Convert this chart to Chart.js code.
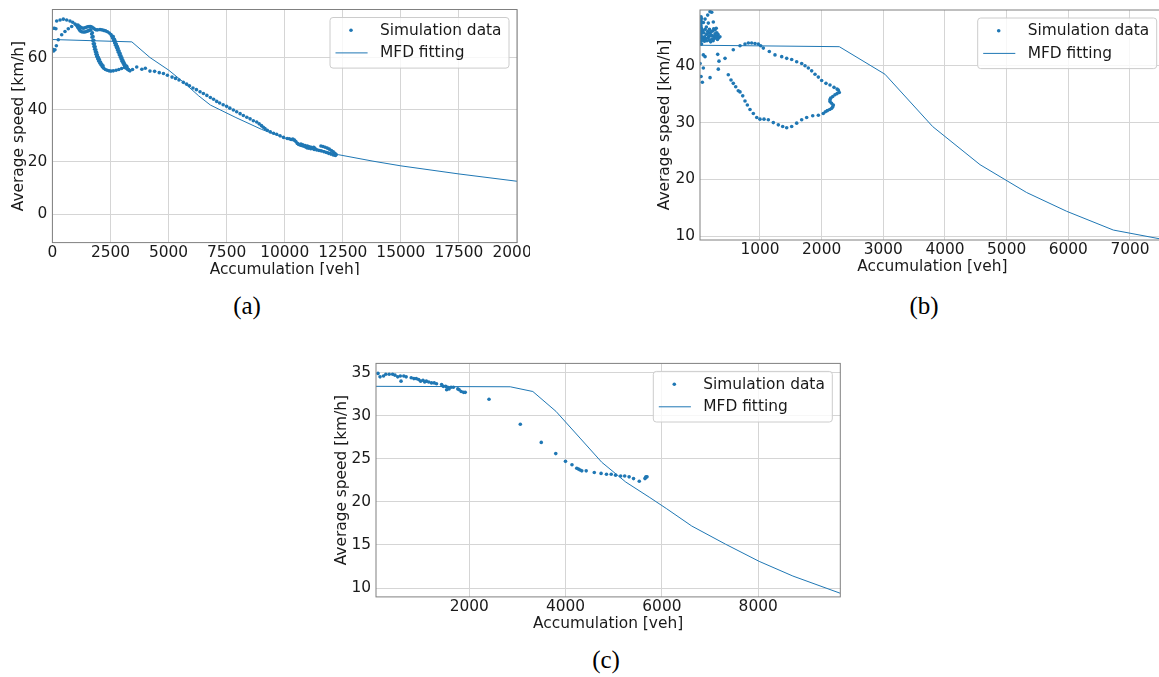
<!DOCTYPE html>
<html>
<head>
<meta charset="utf-8">
<script src="https://cdn.jsdelivr.net/npm/chart.js@4.4.0/dist/chart.umd.min.js"></script>
<style>
  html, body { margin: 0; padding: 0; background: #fff; }
  body { width: 1159px; height: 677px; position: relative; overflow: hidden; }
  .panel { position: absolute; overflow: hidden; }
  .panel canvas { position: absolute; left: 0; top: 0; }
  .tag { position: absolute; font-family: "Liberation Serif", serif; font-size: 25px; color: #000; transform: translate(-50%, -50%); }
</style>
</head>
<body>
<div class="panel" id="wrapA" style="left:0px;top:0px;width:530px;height:275px"><canvas id="chartA" width="530" height="300"></canvas></div>
<div class="panel" id="wrapB" style="left:640px;top:0px;width:519px;height:275px"><canvas id="chartB" width="540" height="300"></canvas></div>
<div class="panel" id="wrapC" style="left:316px;top:355px;width:540px;height:276px"><canvas id="chartC" width="540" height="300"></canvas></div>
<div class="tag" style="left:247px;top:306px">(a)</div>
<div class="tag" style="left:924px;top:306px">(b)</div>
<div class="tag" style="left:606px;top:660px">(c)</div>
<script>
// ---- data: panel (a) ----
const simA = [
  [20,71.2],[90,71.2],[150,71.0],
  [10,63.2],[50,62.5],[110,63.0],[170,64.5],
  [254,66.8],[400,68.7],[542,70.0],[684,71.0],[830,71.9],[972,72.8],
  [185,74.0],[330,74.4],[470,74.7],[615,74.4],[757,74.0],[873,73.5],[1045,72.3],
  [1080,71.8],[1120,71.2],[1160,70.6],[1200,70.2],[1260,69.9],[1320,69.8],[1380,69.8],[1440,69.9],[1500,70.1],[1560,70.3],[1620,70.6],
  [1100,72.4],[1160,72.0],[1220,71.6],[1280,71.3],[1340,71.2],[1400,71.4],[1460,71.6],[1520,71.8],[1580,71.9],[1640,71.9],[1700,71.7],[1760,71.3],[1820,70.9],[1880,70.6],
  [1950,70.6],[2050,70.7],[2130,70.6],[2210,70.4],[2290,70.2],[2370,69.9],[2450,69.4],[2520,68.8],
  [1660,70.5],[1690,69.0],[1710,67.8],[1740,66.5],[1760,65.3],[1790,64.2],[1820,63.2],[1850,62.2],[1880,61.3],[1910,60.4],[1950,59.5],[1990,58.7],[2040,57.9],[2090,57.2],[2150,56.5],[2210,55.9],[2280,55.4],[2360,55.1],[2440,54.9],
  [1720,69.5],[1750,68.0],[1780,66.6],[1810,65.3],[1840,64.1],[1870,63.0],[1900,62.0],[1935,61.0],[1975,60.1],[2020,59.2],[2070,58.3],[2120,57.5],[2180,56.8],
  [2520,54.8],[2620,54.9],[2740,55.1],[2860,55.4],[2980,55.8],[3100,56.2],[3200,56.6],
  [2560,68.2],[2600,67.4],[2640,66.5],[2680,65.6],[2720,64.7],[2760,63.8],[2800,62.9],[2840,62.0],[2880,61.1],[2920,60.2],[2960,59.4],[3000,58.6],[3040,57.9],[3080,57.2],[3130,56.5],[3180,55.9],[3240,55.4],[3300,55.1],
  [2620,68.0],[2670,67.0],[2710,66.1],[2750,65.2],[2790,64.3],[2830,63.4],[2870,62.5],[2910,61.6],[2950,60.7],[2990,59.9],[3030,59.0],[3070,58.2],[3110,57.5],[3160,56.8],[3220,56.0],[3280,55.4],[3340,54.9],
  [3450,55.4],[3630,56.4],[3850,55.5],[4000,55.9],[4200,54.8],[4400,54.7],[4600,54.2],[4780,53.9],[4950,53.2],[5150,52.5],[5300,52.0],[5450,51.4],[5635,50.5],[5780,49.8],[5900,49.2],[6050,48.3],[6200,47.7],[6355,46.9],[6500,46.2],[6650,45.5],[6800,44.7],[6940,44.0],[7073,43.2],[7200,42.6],[7350,41.9],[7500,41.3],[7640,40.6],[7790,39.9],[7933,39.2],[8080,38.5],[8220,37.8],[8370,37.1],[8510,36.5],[8650,35.8],[8795,35.3],[8900,34.6],[9000,33.9],[9080,33.3],[9150,32.8],[9250,32.1],[9380,31.5],[9520,31.0],[9655,30.6],[9800,30.0],[9950,29.4],[10108,29.0],
  [10200,28.9],[10280,28.6],[10350,28.8],[10420,28.4],[10480,27.8],[10543,27.1],[10600,26.7],[10680,26.4],[10760,26.2],[10832,26.0],[10900,25.7],[10960,25.4],[11030,25.3],[11124,25.1],[11200,25.2],[10700,26.9],[10780,26.6],[10880,26.3],[10980,26.1],[11060,25.8],[11140,25.6],[11250,25.6],[11300,25.2],
  [11560,26.1],[11650,25.9],[11740,25.6],[11830,25.3],[11920,24.9],[12010,24.4],[12090,23.9],[12160,23.3],[12215,22.8],[12180,22.5],[12090,22.7],[11990,23.0],[11890,23.3],[11790,23.6],[11690,23.9],[11580,24.2],[11480,24.4],[11380,24.6],[11270,24.8]
];
const fitA = [
  [0,66.9],[3420,66.0],[4200,60.0],[5000,55.2],[5650,50.5],[6300,45.3],[6800,41.8],[7900,37.0],[9000,32.5],[10000,29.2],[11000,26.0],[12300,22.8],[13800,20.3],[15000,18.5],[17500,15.4],[20000,12.6]
];
const xTicksA = [0, 2500, 5000, 7500, 10000, 12500, 15000, 17500, 20000];
const yTicksA = [0, 20, 40, 60];

// ---- data: panel (b) ----
const simB = [
  [190,49.5],[217,49.4],[152,48.9],[109,48.2],[82,47.6],[162,47.5],[243,47.7],
  [44,48.6],[50,48.3],[44,47.9],[52,47.5],[44,47.0],[50,46.6],[44,46.1],[52,45.7],[44,45.3],[50,44.8],[44,44.3],[52,43.8],
  [70,46.2],[90,45.8],[110,46.4],[130,45.5],[150,46.0],[170,45.2],[190,45.8],[210,45.4],[230,46.1],[250,46.5],[270,46.3],[290,46.6],[300,45.8],[320,45.5],[350,45.1],[330,44.9],[300,45.0],
  [80,44.6],[100,45.1],[120,44.8],[140,44.4],[160,44.9],[180,44.5],[200,44.2],[220,44.7],[240,44.4],[260,44.8],[280,45.2],[310,44.6],[270,45.6],[240,45.2],[200,45.3],[160,45.7],[130,46.8],[100,44.3],[60,45.0],[210,46.0],[180,46.4],
  [81,41.9],[109,41.6],[28,40.4],[81,39.6],[44,38.1],[65,37.1],[190,37.9],[314,42.0],[335,40.8],[324,39.4],
  [433,41.3],[567,42.8],[676,43.5],[757,43.8],[811,44.0],[865,44.0],[919,43.9],[973,43.8],[1011,43.5],[1054,43.1],
  [1151,42.5],[1243,41.9],[1352,41.6],[1433,41.3],[1514,41.1],[1595,40.7],[1676,40.4],[1730,40.0],[1784,39.6],[1838,39.1],[1892,38.5],[1946,38.0],[2000,37.4],
  [2070,36.9],[2135,36.6],[2200,36.2],[2250,35.9],[2270,35.7],[2286,35.3],[2250,35.1],[2216,34.9],[2180,34.6],[2146,34.3],[2135,34.0],[2135,33.7],[2160,33.4],[2189,33.1],[2180,32.8],[2162,32.5],[2130,32.3],[2091,32.1],[2060,31.9],[2026,31.6],
  [1946,31.3],[1855,31.2],[1757,30.9],[1676,30.5],[1595,29.9],[1514,29.3],[1433,29.1],[1368,29.3],[1297,29.6],[1216,30.0],[1135,30.5],[1065,30.6],[1000,30.6],[947,30.9],
  [892,31.6],[838,32.3],[795,33.1],[757,33.8],[720,34.7],[676,35.4],[648,35.6],[606,36.3],[567,36.9],[530,37.5],[486,38.4]
];
const fitB = [
  [27,43.6],[2286,43.35],[3027,38.5],[3800,29.3],[4568,22.6],[5324,17.7],[5973,14.4],[6730,11.1],[7560,9.4]
];
const xTicksB = [1000, 2000, 3000, 4000, 5000, 6000, 7000];
const yTicksB = [10, 20, 30, 40];

// ---- data: panel (c) ----
const simC = [
  [105,34.9],[147,34.5],[219,34.6],[267,34.8],[337,34.8],[408,34.8],[457,34.7],[514,34.5],[568,34.6],[583,34.0],[640,34.6],[689,34.5],
  [794,34.4],[850,34.3],[899,34.3],[948,34.2],[990,34.0],[1039,34.1],[1074,33.9],[1109,34.0],[1158,33.9],[1215,33.8],[1271,33.8],[1320,33.7],
  [1425,33.6],[1460,33.4],[1510,33.4],[1530,33.0],[1552,33.3],[1580,33.1],[1622,33.3],[1671,33.3],[1762,33.1],[1790,33.0],[1832,32.8],[1881,32.7],[1916,32.7],
  [2410,31.9],[3060,29.0],[3495,26.9],[3796,25.6],[3998,24.7],[4133,24.3],[4232,23.9],[4267,23.8],[4302,23.7],[4337,23.6],[4428,23.6],
  [4596,23.4],[4737,23.3],[4849,23.2],[4947,23.2],[5039,23.1],[5144,23.0],[5228,23.0],[5319,22.9],[5411,22.7],[5530,22.4],[5649,22.7],[5670,22.9],[5691,22.9],[5660,22.8]
];
const fitC = [
  [63,33.4],[2850,33.35],[3320,32.8],[3800,30.5],[4300,27.4],[4750,24.6],[5250,22.3],[5750,20.5],[6100,19.2],[6620,17.2],[7320,15.1],[8020,13.1],[8720,11.4],[9705,9.4]
];
const xTicksC = [2000, 4000, 6000, 8000];
const yTicksC = [10, 15, 20, 25, 30, 35];

const legendLabels = ['Simulation data', 'MFD fitting'];
const xTitle = 'Accumulation [veh]';
const yTitle = 'Average speed [km/h]';

// ---- styling ----
const C0 = '#1f77b4';
const FONT = 15.4;
const TEXT = '#1a1a1a';
Chart.defaults.font.family = 'DejaVu Sans';
Chart.defaults.font.size = FONT;
Chart.defaults.color = TEXT;

// frame + legend box drawn on top, like matplotlib
const frameLegend = {
  id: 'frameLegend',
  afterDraw(chart) {
    const {ctx, chartArea: a} = chart;
    ctx.save();
    ctx.strokeStyle = '#808080';
    ctx.lineWidth = 1;
    ctx.strokeRect(a.left, a.top, a.right - a.left, a.bottom - a.top);

    const w = 179, h = 50.6;
    const bx = a.right - 8 - w, by = a.top + 8;
    ctx.beginPath();
    ctx.roundRect(bx, by, w, h, 3);
    ctx.fillStyle = 'rgba(255,255,255,0.8)';
    ctx.fill();
    ctx.strokeStyle = '#cccccc';
    ctx.stroke();

    ctx.fillStyle = C0;
    ctx.beginPath();
    ctx.arc(bx + 21, by + 12.8, 1.8, 0, Math.PI * 2);
    ctx.fill();
    ctx.strokeStyle = C0;
    ctx.lineWidth = 1;
    ctx.beginPath();
    ctx.moveTo(bx + 5.5, by + 35.4);
    ctx.lineTo(bx + 37.6, by + 35.4);
    ctx.stroke();

    ctx.fillStyle = TEXT;
    ctx.font = FONT + 'px "DejaVu Sans"';
    ctx.textBaseline = 'middle';
    ctx.textAlign = 'left';
    ctx.fillText(legendLabels[0], bx + 50, by + 13.2);
    ctx.fillText(legendLabels[1], bx + 50, by + 35.8);
    ctx.restore();
  }
};

function makePanel(id, sim, fit, xr, yr, xTicks, yTicks, area) {
  const canvas = document.getElementById(id);
  const W = canvas.width, H = canvas.height;
  const xH = 36.6;                      // x axis box height
  const yW = area.left;                 // y axis box width
  new Chart(canvas.getContext('2d'), {
    type: 'scatter',
    data: {
      datasets: [{
        label: legendLabels[0],
        data: sim.map(p => ({x: p[0], y: p[1]})),
        pointRadius: 1.8,
        pointHoverRadius: 1.8,
        backgroundColor: C0,
        borderWidth: 0,
        order: 1
      }, {
        label: legendLabels[1],
        data: fit.map(p => ({x: p[0], y: p[1]})),
        showLine: true,
        pointRadius: 0,
        borderColor: C0,
        borderWidth: 1,
        tension: 0,
        order: 0
      }]
    },
    options: {
      responsive: false,
      animation: false,
      events: [],
      layout: {
        padding: {left: 0, top: area.top, right: W - area.right, bottom: H - area.bottom - xH}
      },
      plugins: {legend: {display: false}, tooltip: {enabled: false}},
      scales: {
        x: {
          type: 'linear',
          min: xr[0], max: xr[1],
          grid: {color: '#d5d5d5', lineWidth: 1, drawTicks: false},
          border: {display: false},
          ticks: {padding: 1, color: TEXT, callback: v => String(v)},
          afterBuildTicks: s => { s.ticks = xTicks.map(v => ({value: v})); },
          afterFit: s => { s.height = xH; s.paddingLeft = 0; s.paddingRight = 0; },
          title: {display: true, text: xTitle, color: TEXT, padding: {top: 0, bottom: 0}}
        },
        y: {
          type: 'linear',
          min: yr[0], max: yr[1],
          grid: {color: '#d5d5d5', lineWidth: 1, drawTicks: false},
          border: {display: false},
          ticks: {padding: 5, color: TEXT, callback: v => String(v)},
          afterBuildTicks: s => { s.ticks = yTicks.map(v => ({value: v})); },
          afterFit: s => { s.width = yW; s.paddingTop = 0; s.paddingBottom = 0; },
          title: {display: true, text: yTitle, color: TEXT, padding: {top: area.ytitle - 9.24, bottom: 0}}
        }
      }
    },
    plugins: [frameLegend]
  });
}

makePanel('chartA', simA, fitA, [0, 20000], [-10.9, 78.4], xTicksA, yTicksA,
  {left: 52.4, top: 9.5, right: 517, bottom: 242.6, ytitle: 18.6});
makePanel('chartB', simB, fitB, [27, 7563], [9.35, 49.8], xTicksB, yTicksB,
  {left: 60, top: 10, right: 524.7, bottom: 240, ytitle: 25});
makePanel('chartC', simC, fitC, [63, 9705], [8.98, 36.06], xTicksC, yTicksC,
  {left: 60, top: 8.4, right: 524.3, bottom: 241.9, ytitle: 26});
</script>
</body>
</html>
